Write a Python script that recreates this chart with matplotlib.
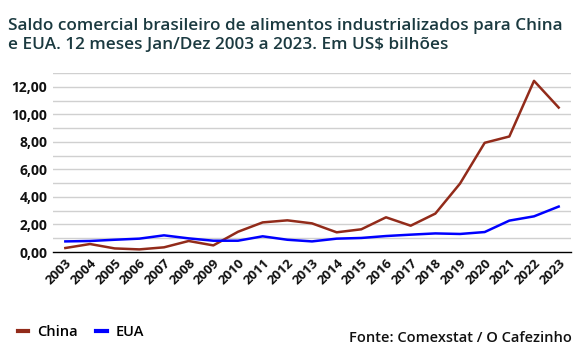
import matplotlib
matplotlib.use("Agg")
import matplotlib.pyplot as plt
from matplotlib.lines import Line2D

years = [str(y) for y in range(2003, 2024)]
china = [0.29, 0.58, 0.26, 0.19, 0.34, 0.80, 0.48, 1.47, 2.15, 2.30, 2.08,
         1.43, 1.65, 2.52, 1.91, 2.79, 4.97, 7.93, 8.39, 12.43, 10.49]
eua = [0.77, 0.80, 0.89, 0.97, 1.21, 0.99, 0.82, 0.82, 1.14, 0.89, 0.77,
       0.97, 1.02, 1.16, 1.26, 1.35, 1.31, 1.45, 2.28, 2.59, 3.30]
yticks = [0, 2, 4, 6, 8, 10, 12]
ytick_labels = ["0,00", "2,00", "4,00", "6,00", "8,00", "10,00", "12,00"]

plt.rcParams['font.family'] = ['Open Sans', 'DejaVu Sans']

fig = plt.figure(figsize=(5.8, 3.53), dpi=100)
ax = fig.add_axes([0.0914, 0.2861, 0.8931, 0.5071])

x = list(range(len(years)))
c_china = '#922B1A'
c_eua = '#0000FF'
ax.plot(x, china, color=c_china, lw=1.8, solid_joinstyle='round')
ax.plot(x, eua, color=c_eua, lw=1.8, solid_joinstyle='round')

ax.set_xlim(-0.5, len(years) - 0.5)
ax.set_ylim(0, 13)
for v in range(1, 14):
    ax.axhline(v, color='#D0D0D0', lw=1.0, zorder=0)
for s in ['top', 'right', 'left']:
    ax.spines[s].set_visible(False)
ax.spines['bottom'].set_color('#000000')
ax.spines['bottom'].set_linewidth(1.0)

ax.set_yticks(yticks)
ax.set_yticklabels(ytick_labels, fontsize=10, fontweight='bold', color='#111111')
ax.set_xticks(x)
ax.set_xticklabels(years, fontsize=9.5, fontweight='bold', color='#111111',
                   rotation=45, ha='right', rotation_mode='anchor')
ax.tick_params(axis='both', length=0, pad=4)
ax.tick_params(axis='x', pad=3)

fig.text(0.014, 0.95, "Saldo comercial brasileiro de alimentos industrializados para China\n"
         "e EUA. 12 meses Jan/Dez 2003 a 2023. Em US$ bilhões",
         fontsize=12.3, fontweight='semibold', color='#1B3A40', va='top', ha='left',
         linespacing=1.3)

handles = [Line2D([], [], color=c_china, lw=3), Line2D([], [], color=c_eua, lw=3)]
fig.legend(handles, ['China', 'EUA'], loc='center left', bbox_to_anchor=(0.008, 0.06),
           ncol=2, frameon=False, handlelength=0.7, handletextpad=0.6,
           columnspacing=1.3, prop={'weight': 'semibold', 'size': 10.5})
fig.text(0.986, 0.042, "Fonte: Comexstat / O Cafezinho", fontsize=10.5, fontweight='semibold',
         color='#111111', ha='right', va='center')

fig.savefig('out.png', dpi=100)
